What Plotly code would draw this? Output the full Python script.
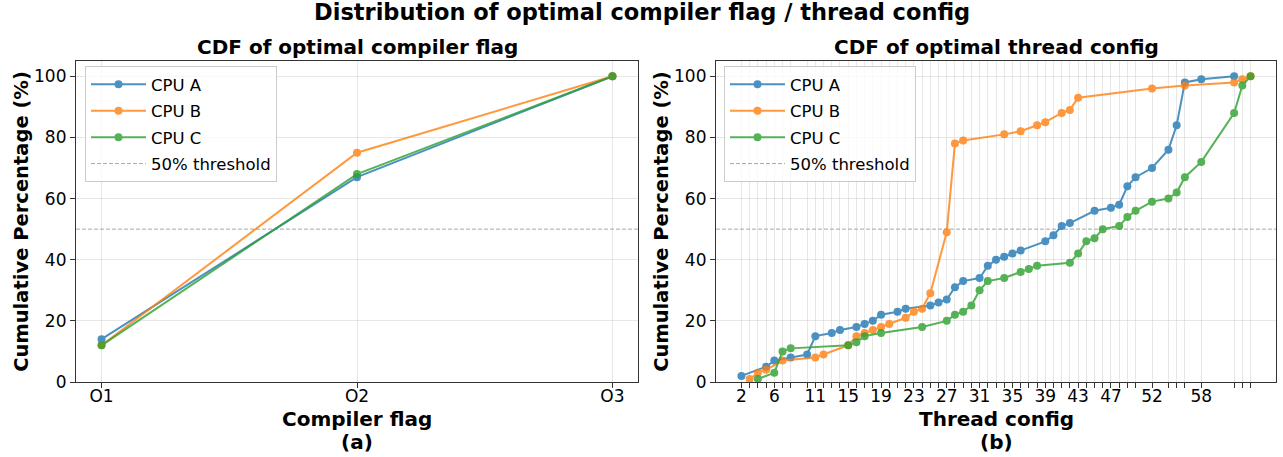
import plotly.graph_objects as go

# ---------------- data ----------------
flags = ["O1", "O2", "O3"]
flag_cpu_a = [14, 67, 100]
flag_cpu_b = [12, 75, 100]
flag_cpu_c = [12, 68, 100]

thr_a_x = [2, 5, 6, 8, 10, 11, 13, 14, 16, 17, 18, 19, 21, 22, 25, 26, 27, 28, 29, 31,
           32, 33, 34, 35, 36, 39, 40, 41, 42, 45, 47, 48, 49, 50, 52, 54, 55, 56, 58, 62]
thr_a_y = [2, 5, 7, 8, 9, 15, 16, 17, 18, 19, 20, 22, 23, 24, 25, 26, 27, 31, 33, 34,
           38, 40, 41, 42, 43, 46, 48, 51, 52, 56, 57, 58, 64, 67, 70, 76, 84, 98, 99, 100]

thr_b_x = [3, 4, 5, 7, 11, 12, 15, 16, 17, 18, 19, 20, 22, 23, 24, 25, 27, 28, 29, 34,
           36, 38, 39, 41, 42, 43, 52, 56, 62, 63, 64]
thr_b_y = [1, 3, 4, 7, 8, 9, 12, 15, 16, 17, 18, 19, 21, 23, 24, 29, 49, 78, 79, 81,
           82, 84, 85, 88, 89, 93, 96, 97, 98, 99, 100]

thr_c_x = [4, 6, 7, 8, 15, 16, 17, 19, 24, 27, 28, 29, 30, 31, 32, 34, 36, 37, 38, 42,
           43, 44, 45, 46, 48, 49, 50, 52, 54, 55, 56, 58, 62, 63, 64]
thr_c_y = [1, 3, 10, 11, 12, 13, 15, 16, 18, 20, 22, 23, 25, 30, 33, 34, 36, 37, 38, 39,
           42, 46, 47, 50, 51, 54, 56, 59, 60, 62, 67, 72, 88, 97, 100]

series_names = ["CPU A", "CPU B", "CPU C"]
colors = ["#1f77b4", "#ff7f0e", "#2ca02c"]
threshold = 50
threshold_label = "50% threshold"
y_ticks = [0, 20, 40, 60, 80, 100]

# thread tick positions: union of all thread values, label every 4th
thread_ticks = sorted(set(thr_a_x) | set(thr_b_x) | set(thr_c_x))
thread_labels = [str(v) if i % 4 == 0 else "" for i, v in enumerate(thread_ticks)]

FONT = "DejaVu Sans"
W, H = 1283, 457
DASH = "4px,2px"

fig = go.Figure()

flag_series = [flag_cpu_a, flag_cpu_b, flag_cpu_c]
for i, (name, col, ys) in enumerate(zip(series_names, colors, flag_series)):
    fig.add_trace(go.Scatter(
        x=[0, 1, 2], y=ys, mode="lines+markers", name=name,
        line=dict(color=col, width=2), marker=dict(color=col, size=8),
        opacity=0.8, xaxis="x", yaxis="y", legend="legend", legendgroup=f"a{i}"))
fig.add_trace(go.Scatter(
    x=[None], y=[None], mode="lines", name=threshold_label,
    line=dict(color="gray", width=1, dash=DASH), opacity=0.7,
    xaxis="x", yaxis="y", legend="legend", legendgroup="a3"))

thr_series = [(thr_a_x, thr_a_y), (thr_b_x, thr_b_y), (thr_c_x, thr_c_y)]
for i, (name, col, (xs, ys)) in enumerate(zip(series_names, colors, thr_series)):
    fig.add_trace(go.Scatter(
        x=xs, y=ys, mode="lines+markers", name=name,
        line=dict(color=col, width=2), marker=dict(color=col, size=8),
        opacity=0.8, xaxis="x2", yaxis="y2", legend="legend2", legendgroup=f"b{i}"))
fig.add_trace(go.Scatter(
    x=[None], y=[None], mode="lines", name=threshold_label,
    line=dict(color="gray", width=1, dash=DASH), opacity=0.7,
    xaxis="x2", yaxis="y2", legend="legend2", legendgroup="b3"))

# threshold lines spanning full axes width
for xr, yr in [("x domain", "y"), ("x2 domain", "y2")]:
    fig.add_shape(type="line", xref=xr, yref=yr, x0=0, x1=1, y0=threshold, y1=threshold,
                  line=dict(color="rgba(128,128,128,0.7)", width=1, dash=DASH), layer="below")

# layout geometry (pixels -> paper)
L1, R1 = 76, 638
L2, R2 = 716, 1276
TOP, BOT = 61, 382
ydom = [1 - BOT / H, 1 - TOP / H]

grid = "rgba(176,176,176,0.3)"
axis_common = dict(showline=True, linecolor="#333333", linewidth=1.2, mirror=True,
                   ticks="outside", ticklen=5, tickcolor="#333333",
                   showgrid=True, gridcolor=grid, gridwidth=1, zeroline=False,
                   automargin=False,
                   tickfont=dict(family=FONT, size=17, color="black"))

ytitle = dict(text="<b>Cumulative Percentage (%)</b>", font=dict(family=FONT, size=19.5, color="black"), standoff=0)

legend_common = dict(xanchor="left", yanchor="top",
                     bgcolor="rgba(255,255,255,0.8)", bordercolor="#cccccc", borderwidth=1,
                     font=dict(family=FONT, size=16.5, color="black"), itemwidth=55,
                     traceorder="grouped", tracegroupgap=2)

fig.update_layout(
    width=W, height=H,
    margin=dict(l=0, r=0, t=0, b=0),
    paper_bgcolor="white", plot_bgcolor="white",
    font=dict(family=FONT, color="black"),
    xaxis=dict(domain=[L1 / W, R1 / W], range=[-0.1, 2.1], tickvals=[0, 1, 2], ticktext=flags,
               ticklabelstandoff=-7, anchor="y", **axis_common),
    yaxis=dict(domain=ydom, range=[0, 105], tickvals=y_ticks, title=ytitle,
               anchor="x", **axis_common),
    xaxis2=dict(domain=[L2 / W, R2 / W], range=[-1.1, 67.1], tickvals=thread_ticks,
                ticktext=thread_labels, ticklabelstandoff=-7,
                anchor="y2", **axis_common),
    yaxis2=dict(domain=ydom, range=[0, 105], tickvals=y_ticks, title=ytitle,
                anchor="x2", **axis_common),
    legend=dict(x=85 / W, y=1 - 66 / H, **legend_common),
    legend2=dict(x=724 / W, y=1 - 66 / H, **legend_common),
    showlegend=True,
)

def label(text, xpx, ypx, size):
    fig.add_annotation(text=text, xref="paper", yref="paper", x=xpx / W, y=1 - ypx / H,
                       xanchor="center", yanchor="middle", showarrow=False, borderpad=0,
                       font=dict(family=FONT, size=size, color="black"))

label("<b>Distribution of optimal compiler flag / thread config</b>", W / 2, 12, 22.5)
label("<b>CDF of optimal compiler flag</b>", (L1 + R1) / 2, 47, 20)
label("<b>CDF of optimal thread config</b>", (L2 + R2) / 2, 47, 20)
label("<b>Compiler flag</b>", (L1 + R1) / 2, 419, 20)
label("<b>(a)</b>", (L1 + R1) / 2, 442, 20)
label("<b>Thread config</b>", (L2 + R2) / 2, 419, 20)
label("<b>(b)</b>", (L2 + R2) / 2, 442, 20)

fig.write_html("out.html", config={"displayModeBar": False},
               post_script="document.body.style.margin='0';")
